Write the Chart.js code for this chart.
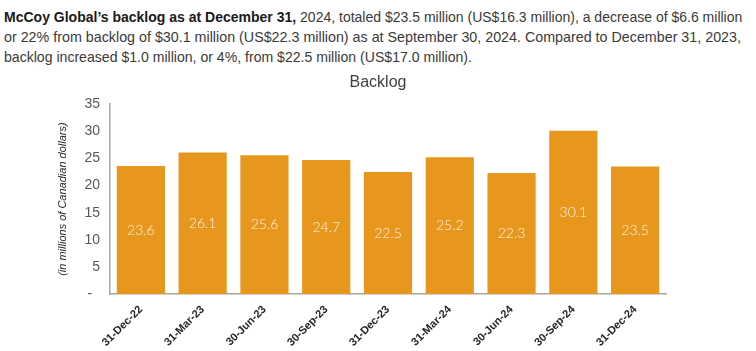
<!DOCTYPE html>
<html>
<head>
<meta charset="utf-8">
<script src="https://cdn.jsdelivr.net/npm/chart.js@4/dist/chart.umd.min.js"></script>
<style>
  html, body { margin: 0; padding: 0; background: #fff; width: 756px; height: 351px; overflow: hidden; }
  .line { position: absolute; left: 4px; white-space: nowrap; font-family: 'Liberation Sans Narrow', 'Liberation Sans', 'DejaVu Sans', sans-serif; font-size: 14.5px; color: #3a3a3a; transform-origin: 0 50%; line-height: 20px; }
  .line b { color: #1a1a1a; font-weight: 600; }
  #wrap { position: absolute; left: 0; top: 65px; width: 756px; height: 286px; }
</style>
</head>
<body>
<div class="line" id="l1" data-w="738" style="top:7px"><b>McCoy Global’s backlog as at December 31,</b> 2024, totaled $23.5 million (US$16.3 million), a decrease of $6.6 million</div>
<div class="line" id="l2" data-w="737" style="top:27px">or 22% from backlog of $30.1 million (US$22.3 million) as at September 30, 2024. Compared to December 31, 2023,</div>
<div class="line" id="l3" data-w="468" style="top:47px">backlog increased $1.0 million, or 4%, from $22.5 million (US$17.0 million).</div>
<div id="wrap"><canvas id="c" width="756" height="286"></canvas></div>
<script>
const categories = ['31-Dec-22','31-Mar-23','30-Jun-23','30-Sep-23','31-Dec-23','31-Mar-24','30-Jun-24','30-Sep-24','31-Dec-24'];
const backlog = [23.6, 26.1, 25.6, 24.7, 22.5, 25.2, 22.3, 30.1, 23.5];
const yTicks = [0, 5, 10, 15, 20, 25, 30, 35];

document.querySelectorAll('.line').forEach(el => {
  const w = el.scrollWidth;
  const target = +el.dataset.w;
  el.style.transform = 'scaleX(' + (target / w) + ')';
});

const barLabels = {
  id: 'barLabels',
  afterDatasetsDraw(chart) {
    const ctx = chart.ctx;
    const meta = chart.getDatasetMeta(0);
    ctx.save();
    ctx.fillStyle = '#FFF4E4';
    ctx.font = '300 14px Lato, "Liberation Sans", sans-serif';
    ctx.textAlign = 'center';
    ctx.textBaseline = 'middle';
    meta.data.forEach((bar, i) => {
      const v = chart.data.datasets[0].data[i];
      ctx.fillText(v.toFixed(1), bar.x, (bar.y + bar.base) / 2);
    });
    ctx.restore();
  }
};

new Chart(document.getElementById('c'), {
  type: 'bar',
  data: {
    labels: categories,
    datasets: [{
      data: backlog,
      backgroundColor: '#E8971E',
      barPercentage: 0.78,
      categoryPercentage: 1.0
    }]
  },
  options: {
    responsive: false,
    animation: false,
    devicePixelRatio: 1,
    layout: { padding: { left: 0, right: 0, top: 0, bottom: 0 } },
    plugins: {
      legend: { display: false },
      tooltip: { enabled: false },
      title: {
        display: true,
        text: 'Backlog',
        color: '#404040',
        font: { family: '"Liberation Sans", Arial, sans-serif', size: 16, weight: 'normal' },
        padding: { top: 8, bottom: 12 }
      }
    },
    scales: {
      x: {
        grid: { display: false, drawTicks: false },
        border: { display: true, color: '#A6A6A6', width: 1.5 },
        ticks: {
          color: '#262626',
          font: { family: '"Liberation Sans", Arial, sans-serif', size: 11, weight: 'bold' },
          maxRotation: 45,
          minRotation: 45,
          padding: 9
        },
        afterFit(scale) { scale.height = 57; }
      },
      y: {
        min: 0,
        max: 35,
        afterBuildTicks(scale) { scale.ticks = yTicks.map(v => ({ value: v })); },
        grid: { display: false, drawTicks: false },
        border: { display: true, color: '#A6A6A6', width: 1.5 },
        ticks: {
          color: '#595959',
          font: { family: '"Liberation Sans", Arial, sans-serif', size: 14 },
          padding: 10,
          callback: v => v === 0 ? '-  ' : String(v)
        },
        title: {
          display: true,
          text: '(in millions of Canadian dollars)',
          color: '#262626',
          font: { family: '"Liberation Sans", Arial, sans-serif', size: 11, style: 'italic' },
          padding: { top: 56, bottom: 0 }
        },
        afterFit(scale) { scale.width = 110; }
      },
      yRight: {
        position: 'right',
        display: true,
        min: 0,
        max: 35,
        grid: { display: false, drawTicks: false },
        border: { display: false },
        ticks: { display: false },
        afterFit(scale) { scale.width = 90; }
      }
    }
  },
  plugins: [barLabels]
});
</script>
</body>
</html>
